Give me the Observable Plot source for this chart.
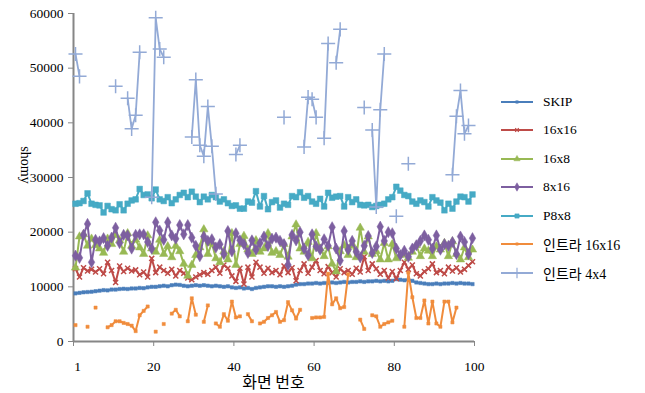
<!DOCTYPE html>
<html><head><meta charset="utf-8">
<script src="https://cdn.jsdelivr.net/npm/d3@7"></script>
<script src="https://cdn.jsdelivr.net/npm/@observablehq/plot@0.6"></script>
<style>
body{margin:0;background:#fff;}
#wrap{position:relative;width:645px;height:393px;font-family:"Liberation Serif","Times New Roman",Times,"DejaVu Serif",serif;}
#chart svg{display:block;}
#legend{position:absolute;left:500px;top:87.5px;}
.item{display:flex;align-items:center;height:28.5px;font-size:13.5px;color:#000;white-space:nowrap;}
.item svg{margin-right:9px;display:block;}
.ko{font-family:"Liberation Serif","Times New Roman","DejaVu Serif","Noto Sans CJK KR",sans-serif;font-size:14px;}
#xtitle{position:absolute;left:0;width:547px;top:372px;text-align:center;font-family:"Noto Sans CJK KR",sans-serif;font-size:16px;line-height:18px;}
#ytitle{position:absolute;left:5px;top:158px;transform:rotate(-90deg);transform-origin:center;font-size:14px;line-height:14px;}
</style></head><body>
<div id="wrap"><div id="chart"></div><div id="legend"></div><div id="xtitle">화면 번호</div><div id="ytitle">ʎɯoɥs</div></div>
<script>
const N = null;
const frames = d3.range(1, 101);
const xTicks = [1, 20, 40, 60, 80, 100];
const yTicks = [0, 10000, 20000, 30000, 40000, 50000, 60000];
const seriesNames = ["SKIP", "16x16", "16x8", "8x16", "P8x8", "인트라 16x16", "인트라 4x4"];

const skip = [8800,8900,9000,9050,9100,9200,9300,9400,9350,9500,
 9500,9600,9650,9600,9700,9700,9800,9750,9900,10000,
 10000,10100,10200,10100,10300,10400,10350,10200,10100,10200,
 10300,10200,10300,10200,10100,10200,10100,10000,10100,9900,
 9800,9900,9700,9800,9600,9800,9900,10000,10100,10100,
 10000,10100,10000,10100,10200,10400,10500,10500,10600,10600,
 10700,10600,10700,10700,10800,10700,10800,10900,10800,10900,
 10900,11000,10900,11000,11000,11100,11000,11100,11000,11100,
 11400,11300,11200,11300,11100,10800,10700,10600,10500,10500,
 10600,10500,10600,10600,10700,10600,10700,10600,10600,10500];

const s16x16 = [13300,11800,13500,12900,13200,12700,13300,12400,14500,13000,
 10800,13800,12800,13400,12900,13100,12200,12700,11800,15200,
 12600,13600,13000,12500,13200,12000,13000,12500,11600,11300,
 11800,12200,12600,12300,13000,13600,12500,14000,13400,12000,
 11000,13400,10500,13600,11800,14500,13600,12500,13400,12600,
 13000,12200,13800,12600,13500,11100,13000,14200,12500,13600,
 14800,13000,12400,13700,12600,11800,13300,12600,13000,12300,
 13400,12700,15500,13000,14200,13300,12300,13000,11600,12800,
 11500,13000,14500,13200,14000,12400,12000,12800,13300,14200,
 12600,13000,12400,13600,12900,13500,12700,13200,13900,14600];

const s16x8 = [13500,19200,19600,17500,18800,17600,17000,16200,18800,17800,
 19500,18500,16400,19800,17500,18600,17200,16000,19400,17000,
 16400,18600,16000,17400,15400,17500,16500,14200,12000,14000,
 15800,17200,20500,16000,18000,15200,14500,16500,15000,19800,
 14000,17800,19300,16800,16000,18500,16400,17000,19800,16200,
 16500,15800,17800,15500,19200,21400,17000,16400,18200,15200,
 19800,17000,15600,17400,14200,12800,16500,17600,15800,17800,
 15400,20800,16400,19200,16000,16500,15000,18000,15000,17800,
 15200,15800,16000,15300,16400,17600,15600,17000,16600,15600,
 17400,16800,18000,15600,18300,16000,15000,17200,15400,16800];

const s8x16 = [15700,15300,19500,21500,14500,18600,18300,18900,17500,19000,
 20800,18000,19500,19400,17000,19500,19600,19600,18200,17000,
 21800,20300,18600,21800,19400,18800,21300,19600,21300,19000,
 17500,15600,19200,18400,18700,17200,17800,16000,20200,16500,
 19800,18500,17800,16200,18500,16800,18000,19200,17500,18800,
 19000,18400,17800,14000,19500,18500,20000,17000,15800,19600,
 17400,16800,18700,17500,20900,17000,14800,20200,16800,18400,
 16400,15400,17500,19300,16200,17400,21000,18400,20000,19800,
 17000,15800,16600,15500,17000,17600,18400,19400,18600,17000,
 19400,16800,17800,17500,18200,16000,19200,18200,16000,18900];

const p8x8 = [25200,25300,25700,27100,25200,25000,24900,23600,24800,24200,
 24000,25100,24000,25200,25800,26000,27900,26800,26900,26200,
 27800,26000,25700,26400,25300,26000,26800,27200,26400,27400,
 26500,25500,26500,26000,26800,26400,25600,26000,25300,24800,
 24900,24300,24300,25600,25400,27500,24700,26600,24200,25500,
 25800,24500,25200,25000,26600,26400,27300,26300,26600,25600,
 25200,26100,24700,27200,26300,26500,26600,24700,26400,25500,
 26000,25000,24900,25000,24600,24800,25000,25200,26000,26400,
 28300,27600,26800,26600,25600,25200,25800,25500,24700,26400,
 25800,25400,24000,25200,24300,25600,26500,26400,25600,26900];

const intra16 = [3000,N,N,2700,N,6200,N,N,2600,3000,
 3700,3700,3400,3200,2900,1900,4800,5600,6400,N,
 1800,N,3200,N,5100,5800,4600,N,3700,7900,
 4900,N,3600,6600,N,3300,2700,5000,3800,7300,
 4400,4600,N,5000,3700,N,3300,3600,4300,4800,
 5400,3600,3900,7200,5700,4200,5800,N,N,4300,
 4400,4400,4500,12400,6800,7900,6100,6300,12300,N,
 N,4000,2300,N,4800,4600,2700,3200,3500,3800,
 N,N,2700,12600,8100,4300,4300,7500,3300,7300,
 3300,2700,7300,7300,3500,6200,N,N,N,N];

const intra4 = [52600,48500,N,N,N,N,N,N,N,N,
 46700,N,N,44500,38900,41400,52900,N,N,26400,
 59200,53500,52000,N,N,N,N,N,N,37400,
 47900,35900,33900,43000,35700,27000,N,N,N,N,
 34200,35900,N,N,N,N,N,N,N,N,
 N,N,41000,N,N,N,N,35600,44700,44300,
 41000,N,37200,54500,N,51000,57100,N,N,N,
 N,N,42800,N,38700,24600,42400,52600,N,N,
 22900,N,N,32500,N,N,N,N,N,N,
 N,N,N,N,30500,41200,45900,38000,39500,N];

const values = [skip, s16x16, s16x8, s8x16, p8x8, intra16, intra4];
const colors = ["#4A7EBB", "#BE4B48", "#98B954", "#7D5FA0", "#46AAC5", "#F08C3C", "#93AAD6"];
const styles = [
  {symbol: "square", r: 1.9, filled: true, sw: 2},
  {symbol: "times", r: 2.4, filled: false, sw: 2},
  {symbol: "triangle", r: 3.1, filled: true, sw: 2},
  {symbol: "diamond", r: 3.4, filled: true, sw: 2},
  {symbol: "square", r: 3.2, filled: true, sw: 2},
  {symbol: "square", r: 1.8, filled: true, sw: 2},
  {symbol: "plus", r: 4.6, filled: false, sw: 1.8}
];

const marks = [];
marks.push(Plot.ruleY([0], {stroke: "#868686", strokeWidth: 2}));
marks.push(Plot.ruleX([0.5], {stroke: "#868686", strokeWidth: 2}));
values.forEach((vals, k) => {
  const d = frames.map((x, i) => ({x, y: vals[i]}));
  const st = styles[k];
  marks.push(Plot.line(d, {x: "x", y: "y", stroke: colors[k], strokeWidth: st.sw}));
  marks.push(Plot.dot(d.filter(p => p.y != null), {
    x: "x", y: "y", symbol: st.symbol, r: st.r,
    fill: st.filled ? colors[k] : "none",
    stroke: colors[k], strokeWidth: st.filled ? 0.5 : 1.5
  }));
});
marks.push(Plot.axisY({ticks: yTicks, tickSize: 5, tickPadding: 5, tickFormat: d => String(d), stroke: "#868686", fill: "#000", label: null}));
marks.push(Plot.axisX({ticks: [0, ...xTicks.slice(1)].map(v => v + 0.5), tickSize: 5, tickFormat: () => "", stroke: "#868686", label: null}));
marks.push(Plot.axisX({ticks: xTicks, tickSize: 0, tickPadding: 20, dx: 2, tickFormat: d => String(d), fill: "#000", label: null}));

const chart = Plot.plot({
  width: 645, height: 393,
  marginLeft: 73, marginRight: 171, marginTop: 13, marginBottom: 52,
  x: {domain: [0.5, 100.5]},
  y: {domain: [0, 60000]},
  style: {fontFamily: "'Liberation Serif', 'Times New Roman', Times, 'DejaVu Serif', serif", fontSize: "13.5px", background: "#fff", color: "#000", overflow: "visible"},
  marks
});
document.getElementById("chart").appendChild(chart);

const symMap = {square: d3.symbolSquare, times: d3.symbolTimes, triangle: d3.symbolTriangle, diamond: d3.symbolDiamond, plus: d3.symbolPlus};
const legend = d3.select("#legend");
seriesNames.forEach((name, k) => {
  const st = styles[k];
  const item = legend.append("div").attr("class", "item");
  const svg = item.append("svg").attr("width", 34).attr("height", 12);
  svg.append("line").attr("x1", 1).attr("x2", 33).attr("y1", 6).attr("y2", 6).attr("stroke", colors[k]).attr("stroke-width", 2);
  const size = Math.PI * Math.pow(st.r * 0.75, 2);
  svg.append("path").attr("transform", "translate(17,6)")
    .attr("d", d3.symbol(symMap[st.symbol], size)())
    .attr("fill", st.filled ? colors[k] : "none")
    .attr("stroke", colors[k]).attr("stroke-width", st.filled ? 0.5 : 1.2);
  const t = item.append("span").text(name);
  if (/[가-힣]/.test(name)) t.attr("class", "ko");
});
</script>
</body></html>
